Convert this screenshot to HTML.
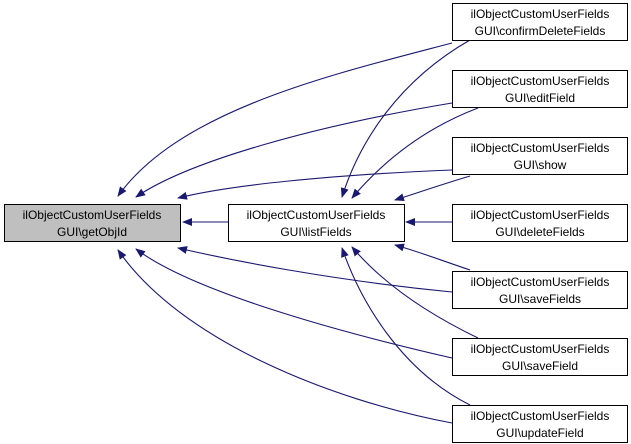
<!DOCTYPE html>
<html><head><style>body{margin:0;background:#fff}svg{display:block}</style></head><body>
<svg width="631" height="444" viewBox="0 0 631 444" xmlns="http://www.w3.org/2000/svg" font-family="Liberation Sans, sans-serif" font-size="12">
<defs><marker id="a" markerWidth="10" markerHeight="8" refX="9" refY="4" orient="auto" markerUnits="userSpaceOnUse"><path d="M0,0 L10,4 L0,8 Z" fill="#191970"/></marker></defs>
<g fill="none" stroke="#191970" stroke-width="1.1" marker-end="url(#a)">
<path d="M452,43 C330,75 180,110 118,196"/>
<path d="M452,103 C320,125 190,160 136,197"/>
<path d="M452,170 C330,175 230,185 178,198"/>
<path d="M452,292 C330,280 230,260 178,248"/>
<path d="M452,358 C330,330 190,290 136,249"/>
<path d="M452,423 C330,400 180,340 118,250"/>
<path d="M228,222 L183,222"/>
<path d="M470,40 C400,80 360,140 342,197"/>
<path d="M478,108 C420,130 380,165 352,198"/>
<path d="M470,176 C440,185 420,192 395,200"/>
<path d="M452,222 L406,222"/>
<path d="M470,270 C440,260 420,252 395,245"/>
<path d="M478,338 C420,310 380,280 352,247"/>
<path d="M470,405 C400,370 360,300 342,248"/>
</g>
<g stroke="#000" stroke-width="1">
<rect x="4.5" y="204.5" width="176" height="37" fill="#bfbfbf"/>
<rect x="228.5" y="204.5" width="176" height="37" fill="#fff"/>
<rect x="452.5" y="3.5" width="175" height="37" fill="#fff"/>
<rect x="452.5" y="70.5" width="175" height="37" fill="#fff"/>
<rect x="452.5" y="137.5" width="175" height="37" fill="#fff"/>
<rect x="452.5" y="204.5" width="175" height="37" fill="#fff"/>
<rect x="452.5" y="271.5" width="175" height="37" fill="#fff"/>
<rect x="452.5" y="338.5" width="175" height="37" fill="#fff"/>
<rect x="452.5" y="405.5" width="175" height="37" fill="#fff"/>
</g>
<g text-anchor="middle" fill="#000">
<text x="92" y="219">ilObjectCustomUserFields</text><text x="92" y="236">GUI\getObjId</text>
<text x="316" y="219">ilObjectCustomUserFields</text><text x="316" y="236">GUI\listFields</text>
<text x="540" y="18">ilObjectCustomUserFields</text><text x="540" y="35">GUI\confirmDeleteFields</text>
<text x="540" y="85">ilObjectCustomUserFields</text><text x="540" y="102">GUI\editField</text>
<text x="540" y="152">ilObjectCustomUserFields</text><text x="540" y="169">GUI\show</text>
<text x="540" y="219">ilObjectCustomUserFields</text><text x="540" y="236">GUI\deleteFields</text>
<text x="540" y="286">ilObjectCustomUserFields</text><text x="540" y="303">GUI\saveFields</text>
<text x="540" y="353">ilObjectCustomUserFields</text><text x="540" y="370">GUI\saveField</text>
<text x="540" y="420">ilObjectCustomUserFields</text><text x="540" y="437">GUI\updateField</text>
</g>
</svg>
</body></html>
